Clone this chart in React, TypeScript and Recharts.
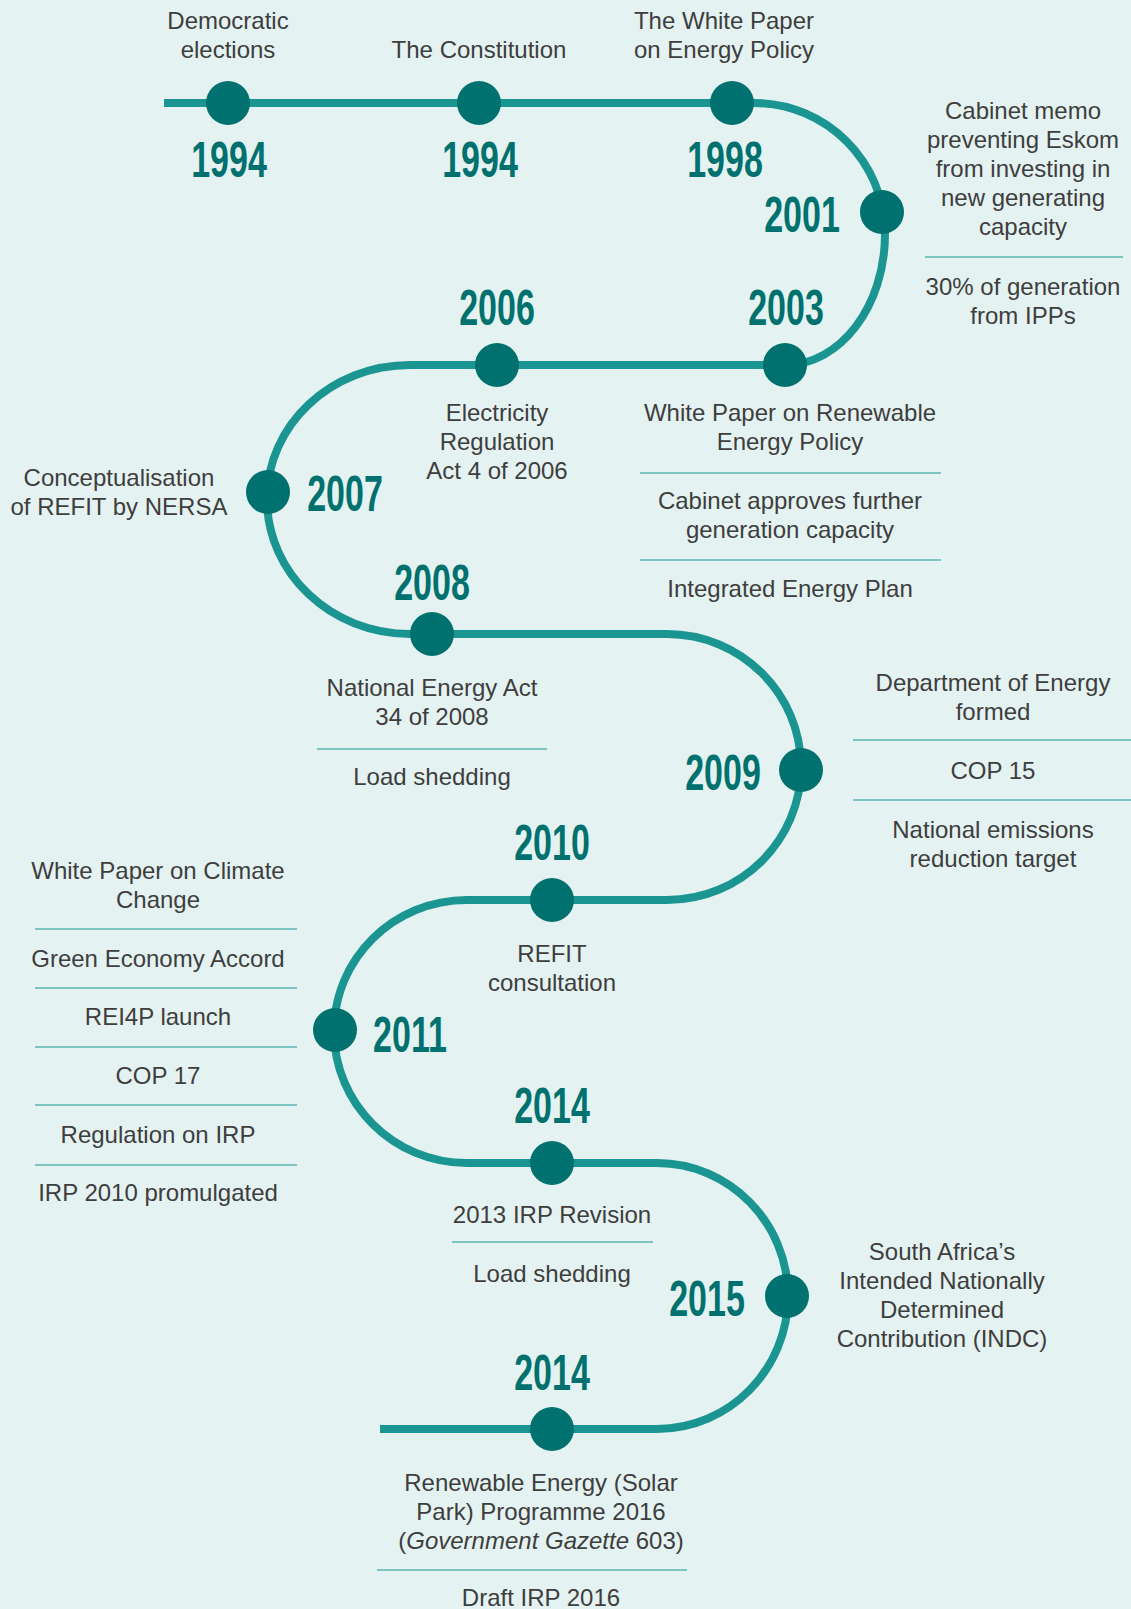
import { ComposedChart, Line, ReferenceLine, Scatter, XAxis, YAxis } from "recharts";

const W = 1131;
const H = 1609;

const BG = "#e4f2f1";
const TEAL = "#1b9592";
const DARK = "#00716e";
const INK = "#3e3e3e";
const RULE = "#5fb5b2";
const FONT = "'Liberation Sans', Arial, Helvetica, sans-serif";

// waypoints of the winding line: row ends and the apex of each bend
const pathPoints = [
    { x: 164, y: 103 }, { x: 754, y: 103 },
    { x: 885, y: 234 },
    { x: 785, y: 365 }, { x: 410, y: 365 },
    { x: 267, y: 499 },
    { x: 410, y: 634 }, { x: 667, y: 634 },
    { x: 801, y: 767 },
    { x: 667, y: 900 }, { x: 467, y: 900 },
    { x: 334, y: 1031 },
    { x: 467, y: 1163 }, { x: 657, y: 1163 },
    { x: 788, y: 1296 },
    { x: 657, y: 1429 }, { x: 380, y: 1429 },
];

// milestone dots
const milestones = [
    { x: 228, y: 103 }, { x: 479, y: 103 }, { x: 732, y: 103 },
    { x: 882, y: 212 }, { x: 785, y: 365 }, { x: 497, y: 365 },
    { x: 268, y: 492 }, { x: 432, y: 634 }, { x: 801, y: 770 },
    { x: 552, y: 900 }, { x: 335, y: 1030 }, { x: 552, y: 1163 },
    { x: 787, y: 1296 }, { x: 552, y: 1429 },
];

const yearLabels = [
    { x: 229, y: 159, year: "1994" },
    { x: 480, y: 159, year: "1994" },
    { x: 725, y: 159, year: "1998" },
    { x: 802, y: 214, year: "2001" },
    { x: 497, y: 307, year: "2006" },
    { x: 786, y: 307, year: "2003" },
    { x: 345, y: 493, year: "2007" },
    { x: 432, y: 582, year: "2008" },
    { x: 723, y: 772, year: "2009" },
    { x: 552, y: 842, year: "2010" },
    { x: 410, y: 1034, year: "2011" },
    { x: 552, y: 1105, year: "2014" },
    { x: 707, y: 1298, year: "2015" },
    { x: 552, y: 1372, year: "2014" },
];

// text blocks; *...* marks italic
const notes = [
    { x: 228, y: 21, lines: ["Democratic", "elections"] },
    { x: 479, y: 50, lines: ["The Constitution"] },
    { x: 724, y: 21, lines: ["The White Paper", "on Energy Policy"] },
    { x: 1023, y: 111, lines: ["Cabinet memo", "preventing Eskom", "from investing in", "new generating", "capacity"] },
    { x: 1023, y: 287, lines: ["30% of generation", "from IPPs"] },
    { x: 497, y: 413, lines: ["Electricity", "Regulation", "Act 4 of 2006"] },
    { x: 790, y: 413, lines: ["White Paper on Renewable", "Energy Policy"] },
    { x: 790, y: 501, lines: ["Cabinet approves further", "generation capacity"] },
    { x: 790, y: 589, lines: ["Integrated Energy Plan"] },
    { x: 119, y: 478, lines: ["Conceptualisation", "of REFIT by NERSA"] },
    { x: 432, y: 688, lines: ["National Energy Act", "34 of 2008"] },
    { x: 432, y: 777, lines: ["Load shedding"] },
    { x: 993, y: 683, lines: ["Department of Energy", "formed"] },
    { x: 993, y: 771, lines: ["COP 15"] },
    { x: 993, y: 830, lines: ["National emissions", "reduction target"] },
    { x: 552, y: 954, lines: ["REFIT", "consultation"] },
    { x: 158, y: 871, lines: ["White Paper on Climate", "Change"] },
    { x: 158, y: 959, lines: ["Green Economy Accord"] },
    { x: 158, y: 1017, lines: ["REI4P launch"] },
    { x: 158, y: 1076, lines: ["COP 17"] },
    { x: 158, y: 1135, lines: ["Regulation on IRP"] },
    { x: 158, y: 1193, lines: ["IRP 2010 promulgated"] },
    { x: 552, y: 1215, lines: ["2013 IRP Revision"] },
    { x: 552, y: 1274, lines: ["Load shedding"] },
    { x: 942, y: 1252, lines: ["South Africa\u2019s", "Intended Nationally", "Determined", "Contribution (INDC)"] },
    { x: 541, y: 1483, lines: ["Renewable Energy (Solar", "Park) Programme 2016", "(*Government Gazette* 603)"] },
    { x: 541, y: 1598, lines: ["Draft IRP 2016"] },
];

// thin divider rules between stacked notes
const rules = [
    { x1: 925, x2: 1123, y: 257 },
    { x1: 640, x2: 941, y: 473 },
    { x1: 640, x2: 941, y: 560 },
    { x1: 317, x2: 547, y: 749 },
    { x1: 853, x2: 1131, y: 740 },
    { x1: 853, x2: 1131, y: 800 },
    { x1: 35, x2: 297, y: 929 },
    { x1: 35, x2: 297, y: 988 },
    { x1: 35, x2: 297, y: 1047 },
    { x1: 35, x2: 297, y: 1105 },
    { x1: 35, x2: 297, y: 1165 },
    { x1: 452, x2: 653, y: 1242 },
    { x1: 377, x2: 687, y: 1570 },
];

// straight runs between rows, quarter-ellipse into and out of each bend apex
const K = 0.5523;
function serpentine(context: any) {
    let x0 = 0, y0 = 0, started = false, inTurn = false;
    return {
        areaStart() { },
        areaEnd() { },
        lineStart() { started = false; inTurn = false; },
        lineEnd() { },
        point(x: number, y: number) {
            x = +x; y = +y;
            if (!started) {
                context.moveTo(x, y);
                started = true;
            } else if (Math.abs(y - y0) < 0.5) {
                context.lineTo(x, y);
                inTurn = false;
            } else if (!inTurn) {
                context.bezierCurveTo(x0 + K * (x - x0), y0, x, y - K * (y - y0), x, y);
                inTurn = true;
            } else {
                context.bezierCurveTo(x0, y0 + K * (y - y0), x + K * (x0 - x), y, x, y);
                inTurn = false;
            }
            x0 = x; y0 = y;
        },
    };
}

const Dot = (props: any) => {
    const { cx, cy } = props;
    return <circle cx={cx} cy={cy} r={22} fill={DARK} />;
};

const Year = (props: any) => {
    const { cx, cy, payload } = props;
    return (
        <text
            transform={`translate(${cx},${cy + 18}) scale(0.68,1)`}
            textAnchor="middle"
            fontFamily={FONT}
            fontWeight="bold"
            fontSize={50}
            fill={DARK}
        >
            {payload.year}
        </text>
    );
};

const Note = (props: any) => {
    const { cx, cy, payload } = props;
    return (
        <text x={cx} y={cy} textAnchor="middle" fontFamily={FONT} fontSize={24} fill={INK}>
            {payload.lines.map((line: string, i: number) => (
                <tspan key={i} x={cx} y={cy + i * 29} dy="0.35em">
                    {line.split("*").map((part, j) => (
                        <tspan key={j} fontStyle={j % 2 === 1 ? "italic" : "normal"}>{part}</tspan>
                    ))}
                </tspan>
            ))}
        </text>
    );
};

export default function App() {
    return (
        <div style={{ position: "absolute", left: 0, top: 0, width: W, height: H, background: BG, overflow: "hidden" }}>
            <ComposedChart width={W} height={H} margin={{ top: 0, right: 0, bottom: 0, left: 0 }}>
                <XAxis type="number" dataKey="x" domain={[0, W]} allowDataOverflow hide />
                <YAxis type="number" dataKey="y" domain={[0, H]} allowDataOverflow reversed hide />
                {rules.map((r, i) => (
                    <ReferenceLine
                        key={i}
                        segment={[{ x: r.x1, y: r.y }, { x: r.x2, y: r.y }]}
                        stroke={RULE}
                        strokeWidth={1.5}
                        ifOverflow="visible"
                    />
                ))}
                <Line
                    data={pathPoints}
                    dataKey="y"
                    type={serpentine as any}
                    stroke={TEAL}
                    strokeWidth={8}
                    dot={false}
                    activeDot={false}
                    isAnimationActive={false}
                />
                <Scatter data={milestones} shape={Dot} isAnimationActive={false} />
                <Scatter data={yearLabels} shape={Year} isAnimationActive={false} />
                <Scatter data={notes} shape={Note} isAnimationActive={false} />
            </ComposedChart>
        </div>
    );
}
